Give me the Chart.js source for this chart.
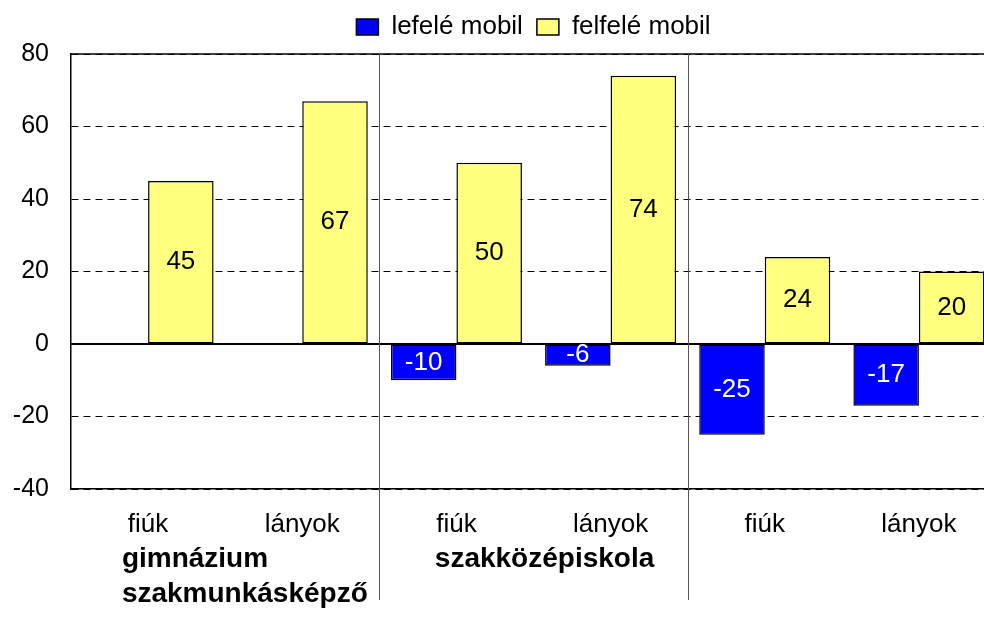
<!DOCTYPE html>
<html>
<head>
<meta charset="utf-8">
<script src="https://cdn.jsdelivr.net/npm/chart.js@4.4.1/dist/chart.umd.min.js"></script>
<style>
  body { margin: 0; overflow: hidden; background: #fff; }
  #wrap { width: 1000px; height: 637px; }
</style>
</head>
<body>
<div id="wrap"><canvas id="myChart"></canvas></div>
<script>
const categories = ['fiúk', 'lányok', 'fiúk', 'lányok', 'fiúk', 'lányok'];
const groupLabels = ['gimnázium', 'szakközépiskola', 'szakmunkásképző'];
const lefele = [0, 0, -10, -6, -25, -17];
const felfele = [45, 67, 50, 74, 24, 20];
const yTicks = [80, 60, 40, 20, 0, -20, -40];

const FONT = 'Arial, "Liberation Sans", sans-serif';

// a bit of extra room under the legend
const legendGap = {
    id: 'legendGap',
    beforeInit(chart) {
        const fit = chart.legend.fit;
        chart.legend.fit = function () {
            fit.call(this);
            this.height += 4;
        };
    }
};

// values written inside the bars
const barLabels = {
    id: 'barLabels',
    afterDatasetsDraw(chart) {
        const c = chart.ctx;
        const y = chart.scales.y;
        c.save();
        // solid zero line and top border
        c.strokeStyle = '#000';
        c.lineWidth = 2;
        c.beginPath();
        c.moveTo(chart.chartArea.left, y.getPixelForValue(0));
        c.lineTo(chart.chartArea.right, y.getPixelForValue(0));
        c.stroke();
        c.lineWidth = 1.5;
        c.beginPath();
        c.moveTo(chart.chartArea.left, y.getPixelForValue(80));
        c.lineTo(chart.chartArea.right, y.getPixelForValue(80));
        c.stroke();

        c.font = '26px ' + FONT;
        c.textAlign = 'center';
        c.textBaseline = 'middle';
        chart.data.datasets.forEach((ds, i) => {
            const meta = chart.getDatasetMeta(i);
            meta.data.forEach((el, j) => {
                const v = ds.data[j];
                if (!v) return;
                c.fillStyle = i === 0 ? '#fff' : '#000';
                c.fillText(String(v), el.x, (el.y + el.base) / 2);
            });
        });
        c.restore();
    }
};

// group separators and group names under the axis
const groups = {
    id: 'groups',
    afterDraw(chart) {
        const c = chart.ctx;
        const x = chart.scales.x;
        const top = chart.chartArea.top;
        const bottom = chart.chartArea.bottom;
        c.save();
        c.strokeStyle = '#555';
        c.lineWidth = 1;
        [1.5, 3.5].forEach(v => {
            const px = Math.round(x.getPixelForValue(v)) + 0.5;
            c.beginPath();
            c.moveTo(px, top);
            c.lineTo(px, bottom + 111);
            c.stroke();
        });
        const step = x.getPixelForValue(1) - x.getPixelForValue(0);
        c.font = 'bold 28px ' + FONT;
        c.fillStyle = '#000';
        c.textAlign = 'left';
        c.textBaseline = 'middle';
        c.fillText(groupLabels[0], x.getPixelForValue(-0.5) + step * 0.33, bottom + 70);
        c.fillText(groupLabels[1], x.getPixelForValue(1.5) + step * 0.36, bottom + 70);
        c.fillText(groupLabels[2], x.getPixelForValue(-0.5) + step * 0.33, bottom + 105);
        c.restore();
    }
};

const data = {
    labels: categories,
    datasets: [{
        label: 'lefelé mobil',
        data: lefele,
        backgroundColor: '#0000FF',
        borderColor: '#000',
        borderWidth: 1.5,
        borderSkipped: false
    }, {
        label: 'felfelé mobil',
        data: felfele,
        backgroundColor: '#FFFF80',
        borderColor: '#000',
        borderWidth: 1.5,
        borderSkipped: false
    }]
};

const config = {
    type: 'bar',
    data: data,
    options: {
        responsive: true,
        maintainAspectRatio: false,
        animation: false,
        layout: { padding: { top: 0, right: 4, left: 0, bottom: 0 } },
        datasets: {
            bar: { categoryPercentage: 0.85, barPercentage: 1.0 }
        },
        scales: {
            x: {
                grid: { display: false },
                border: { display: true, color: '#000', width: 1.5 },
                ticks: { color: '#000', font: { size: 26, family: FONT }, padding: 12, maxRotation: 0 },
                afterFit(scale) { scale.height = 148; }
            },
            y: {
                min: -40,
                max: 80,
                afterBuildTicks(scale) { scale.ticks = yTicks.map(v => ({ value: v })); },
                grid: { color: '#000', lineWidth: 1, drawTicks: false },
                border: { display: true, color: '#000', width: 1.5, dash: [7, 5] },
                ticks: { color: '#000', font: { size: 25, family: FONT }, padding: 22 },
                afterFit(scale) { scale.width = 71; }
            }
        },
        plugins: {
            legend: {
                position: 'top',
                fullSize: false,
                labels: {
                    color: '#000',
                    font: { size: 26, family: FONT },
                    boxWidth: 22,
                    boxHeight: 16,
                    padding: 14
                }
            },
            tooltip: { enabled: false }
        }
    },
    plugins: [legendGap, barLabels, groups]
};

const myChart = new Chart(document.getElementById('myChart'), config);
</script>
</body>
</html>
